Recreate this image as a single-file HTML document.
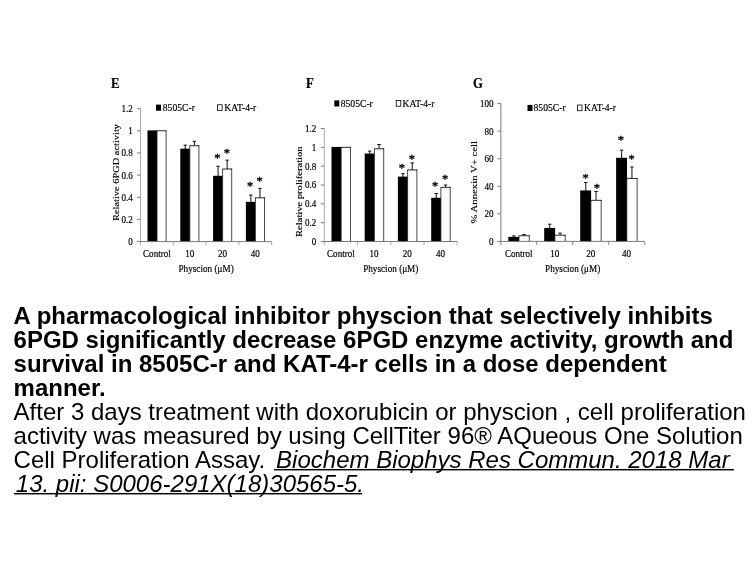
<!DOCTYPE html>
<html><head><meta charset="utf-8"><title>Physcion 6PGD inhibitor</title>
<style>
html,body{margin:0;padding:0;background:#fff;}
body{width:756px;height:567px;position:relative;overflow:hidden;font-family:"Liberation Sans",Arial,Helvetica,sans-serif;color:#000;}
svg{position:absolute;left:0;top:0;filter:blur(0.35px);}
svg text{font-family:"Liberation Serif","Times New Roman",serif;fill:#000;stroke:#000;stroke-width:0.2px;}
.cap{position:absolute;left:13.6px;top:304px;width:742px;font-size:24px;line-height:24px;white-space:nowrap;filter:blur(0.3px);}
.cap .l{display:block;height:24px;transform:scaleY(0.968);transform-origin:0 20px;}
.cap b{font-weight:bold;}
.cap i{font-style:italic;background:linear-gradient(#000,#000) no-repeat 0 22.5px/100% 1.5px;}
.cap i span{position:relative;left:2.2px;}
</style></head><body>
<svg width="756" height="300" viewBox="0 0 756 300">
<text transform="translate(111.00 88.00) scale(0.87 1)" font-size="14.6" text-anchor="start" font-weight="bold">E</text>
<path d="M140.5 108.6V245.1M173.30 241.6V245.1M206.10 241.6V245.1M238.90 241.6V245.1M271.70 241.6V245.1" fill="none" stroke="#a2a2a2" stroke-width="0.9"/>
<text transform="translate(132.90 245.05) scale(0.865 1)" font-size="10.5" text-anchor="end">0</text>
<text transform="translate(132.90 222.88) scale(0.865 1)" font-size="10.5" text-anchor="end">0.2</text>
<text transform="translate(132.90 200.72) scale(0.865 1)" font-size="10.5" text-anchor="end">0.4</text>
<text transform="translate(132.90 178.55) scale(0.865 1)" font-size="10.5" text-anchor="end">0.6</text>
<text transform="translate(132.90 156.38) scale(0.865 1)" font-size="10.5" text-anchor="end">0.8</text>
<text transform="translate(132.90 134.22) scale(0.865 1)" font-size="10.5" text-anchor="end">1</text>
<text transform="translate(132.90 112.05) scale(0.865 1)" font-size="10.5" text-anchor="end">1.2</text>
<rect x="147.50" y="130.37" width="9.70" height="111.23" fill="#000"/>
<rect x="157.00" y="130.77" width="9.10" height="110.83" fill="#fff"/>
<path d="M157.00 130.77V241.6M166.10 130.37V241.6" fill="none" stroke="#1a1a1a" stroke-width="0.8"/>
<path d="M156.70 130.77H166.47" fill="none" stroke="#000" stroke-width="0.85"/>
<text transform="translate(156.90 257.40) scale(0.865 1)" font-size="10.5" text-anchor="middle">Control</text>
<path d="M185.25 149.05V145.17M183.55 145.17H186.95" fill="none" stroke="#111" stroke-width="1"/>
<path d="M194.35 145.73V141.30M192.65 141.30H196.05" fill="none" stroke="#111" stroke-width="1"/>
<rect x="180.30" y="148.65" width="9.70" height="92.95" fill="#000"/>
<rect x="189.80" y="145.73" width="9.10" height="95.87" fill="#fff"/>
<path d="M189.80 145.73V241.6M198.90 145.33V241.6" fill="none" stroke="#1a1a1a" stroke-width="0.8"/>
<path d="M189.50 145.73H199.27" fill="none" stroke="#000" stroke-width="0.85"/>
<text transform="translate(189.70 257.40) scale(0.865 1)" font-size="10.5" text-anchor="middle">10</text>
<path d="M218.05 176.21V166.23M216.35 166.23H219.75" fill="none" stroke="#111" stroke-width="1"/>
<path d="M227.15 169.00V160.14M225.45 160.14H228.85" fill="none" stroke="#111" stroke-width="1"/>
<rect x="213.10" y="175.81" width="9.70" height="65.79" fill="#000"/>
<rect x="222.60" y="169.00" width="9.10" height="72.60" fill="#fff"/>
<path d="M222.60 169.00V241.6M231.70 168.60V241.6" fill="none" stroke="#1a1a1a" stroke-width="0.8"/>
<path d="M222.30 169.00H232.07" fill="none" stroke="#000" stroke-width="0.85"/>
<text transform="translate(222.50 257.40) scale(0.865 1)" font-size="10.5" text-anchor="middle">20</text>
<path d="M250.85 202.25V195.05M249.15 195.05H252.55" fill="none" stroke="#111" stroke-width="1"/>
<path d="M259.95 197.82V188.40M258.25 188.40H261.65" fill="none" stroke="#111" stroke-width="1"/>
<rect x="245.90" y="201.85" width="9.70" height="39.75" fill="#000"/>
<rect x="255.40" y="197.82" width="9.10" height="43.78" fill="#fff"/>
<path d="M255.40 197.82V241.6M264.50 197.42V241.6" fill="none" stroke="#1a1a1a" stroke-width="0.8"/>
<path d="M255.10 197.82H264.87" fill="none" stroke="#000" stroke-width="0.85"/>
<text transform="translate(255.30 257.40) scale(0.865 1)" font-size="10.5" text-anchor="middle">40</text>
<path d="M137.0 241.6H271.7M137.0 219.43H140.5M137.0 197.27H140.5M137.0 175.10H140.5M137.0 152.93H140.5M137.0 130.77H140.5M137.0 108.60H140.5" fill="none" stroke="#6e6e6e" stroke-width="0.9"/>
<text transform="translate(206.10 272.30) scale(0.876 1)" font-size="10.5" text-anchor="middle">Physcion (μM)</text>
<text transform="translate(119.3 172.5) rotate(-90)" font-size="9.2" text-anchor="middle" textLength="97" lengthAdjust="spacingAndGlyphs" style="stroke-width:0.15px">Relative 6PGD activity</text>
<rect x="156" y="104.60" width="5" height="6.1" fill="#000"/>
<text transform="translate(162.80 111.00) scale(0.91 1)" font-size="10.6" text-anchor="start">8505C-r</text>
<rect x="217.50" y="104.75" width="4.6" height="5.65" fill="#fff" stroke="#000" stroke-width="0.8"/>
<text transform="translate(224.30 111.00) scale(0.9 1)" font-size="10.6" text-anchor="start">KAT-4-r</text>
<text x="217.3" y="162.10" font-size="12.5" text-anchor="middle" style="stroke-width:0.38px">*</text>
<text x="226.9" y="157.10" font-size="12.5" text-anchor="middle" style="stroke-width:0.38px">*</text>
<text x="250" y="190.40" font-size="12.5" text-anchor="middle" style="stroke-width:0.38px">*</text>
<text x="259.5" y="184.90" font-size="12.5" text-anchor="middle" style="stroke-width:0.38px">*</text>
<text transform="translate(306.00 88.00) scale(0.87 1)" font-size="14.6" text-anchor="start" font-weight="bold">F</text>
<path d="M324.3 128.5V245.0M357.50 241.5V245.0M390.70 241.5V245.0M424.00 241.5V245.0M457.20 241.5V245.0" fill="none" stroke="#a2a2a2" stroke-width="0.9"/>
<text transform="translate(316.30 244.95) scale(0.865 1)" font-size="10.5" text-anchor="end">0</text>
<text transform="translate(316.30 226.12) scale(0.865 1)" font-size="10.5" text-anchor="end">0.2</text>
<text transform="translate(316.30 207.28) scale(0.865 1)" font-size="10.5" text-anchor="end">0.4</text>
<text transform="translate(316.30 188.45) scale(0.865 1)" font-size="10.5" text-anchor="end">0.6</text>
<text transform="translate(316.30 169.62) scale(0.865 1)" font-size="10.5" text-anchor="end">0.8</text>
<text transform="translate(316.30 150.78) scale(0.865 1)" font-size="10.5" text-anchor="end">1</text>
<text transform="translate(316.30 131.95) scale(0.865 1)" font-size="10.5" text-anchor="end">1.2</text>
<rect x="331.50" y="146.93" width="9.90" height="94.57" fill="#000"/>
<rect x="341.20" y="147.33" width="9.30" height="94.17" fill="#fff"/>
<path d="M341.20 147.33V241.5M350.50 146.93V241.5" fill="none" stroke="#1a1a1a" stroke-width="0.8"/>
<path d="M340.90 147.33H350.87" fill="none" stroke="#000" stroke-width="0.85"/>
<text transform="translate(340.90 257.40) scale(0.865 1)" font-size="10.5" text-anchor="middle">Control</text>
<path d="M369.75 153.93V151.10M368.05 151.10H371.45" fill="none" stroke="#111" stroke-width="1"/>
<path d="M379.05 148.75V144.51M377.35 144.51H380.75" fill="none" stroke="#111" stroke-width="1"/>
<rect x="364.70" y="153.53" width="9.90" height="87.97" fill="#000"/>
<rect x="374.40" y="148.75" width="9.30" height="92.75" fill="#fff"/>
<path d="M374.40 148.75V241.5M383.70 148.35V241.5" fill="none" stroke="#1a1a1a" stroke-width="0.8"/>
<path d="M374.10 148.75H384.07" fill="none" stroke="#000" stroke-width="0.85"/>
<text transform="translate(374.10 257.40) scale(0.865 1)" font-size="10.5" text-anchor="middle">10</text>
<path d="M402.95 177.00V173.70M401.25 173.70H404.65" fill="none" stroke="#111" stroke-width="1"/>
<path d="M412.25 169.93V162.87M410.55 162.87H413.95" fill="none" stroke="#111" stroke-width="1"/>
<rect x="397.90" y="176.60" width="9.90" height="64.90" fill="#000"/>
<rect x="407.60" y="169.93" width="9.30" height="71.57" fill="#fff"/>
<path d="M407.60 169.93V241.5M416.90 169.53V241.5" fill="none" stroke="#1a1a1a" stroke-width="0.8"/>
<path d="M407.30 169.93H417.27" fill="none" stroke="#000" stroke-width="0.85"/>
<text transform="translate(407.35 257.40) scale(0.865 1)" font-size="10.5" text-anchor="middle">20</text>
<path d="M436.25 198.18V193.47M434.55 193.47H437.95" fill="none" stroke="#111" stroke-width="1"/>
<path d="M445.55 187.35V185.00M443.85 185.00H447.25" fill="none" stroke="#111" stroke-width="1"/>
<rect x="431.20" y="197.78" width="9.90" height="43.72" fill="#000"/>
<rect x="440.90" y="187.35" width="9.30" height="54.15" fill="#fff"/>
<path d="M440.90 187.35V241.5M450.20 186.95V241.5" fill="none" stroke="#1a1a1a" stroke-width="0.8"/>
<path d="M440.60 187.35H450.57" fill="none" stroke="#000" stroke-width="0.85"/>
<text transform="translate(440.60 257.40) scale(0.865 1)" font-size="10.5" text-anchor="middle">40</text>
<path d="M320.8 241.5H457.2M320.8 222.67H324.3M320.8 203.83H324.3M320.8 185.00H324.3M320.8 166.17H324.3M320.8 147.33H324.3M320.8 128.50H324.3" fill="none" stroke="#6e6e6e" stroke-width="0.9"/>
<text transform="translate(390.75 272.30) scale(0.876 1)" font-size="10.5" text-anchor="middle">Physcion (μM)</text>
<text transform="translate(301.5 191.7) rotate(-90)" font-size="9.2" text-anchor="middle" textLength="90.5" lengthAdjust="spacingAndGlyphs" style="stroke-width:0.15px">Relative proliferation</text>
<rect x="334.3" y="100.40" width="5" height="6.1" fill="#000"/>
<text transform="translate(340.70 106.80) scale(0.91 1)" font-size="10.6" text-anchor="start">8505C-r</text>
<rect x="396.20" y="100.55" width="4.6" height="5.65" fill="#fff" stroke="#000" stroke-width="0.8"/>
<text transform="translate(402.50 106.80) scale(0.9 1)" font-size="10.6" text-anchor="start">KAT-4-r</text>
<text x="401.8" y="172.10" font-size="12.5" text-anchor="middle" style="stroke-width:0.38px">*</text>
<text x="411.9" y="163.40" font-size="12.5" text-anchor="middle" style="stroke-width:0.38px">*</text>
<text x="435" y="190.00" font-size="12.5" text-anchor="middle" style="stroke-width:0.38px">*</text>
<text x="445" y="182.90" font-size="12.5" text-anchor="middle" style="stroke-width:0.38px">*</text>
<text transform="translate(473.00 88.00) scale(0.87 1)" font-size="14.6" text-anchor="start" font-weight="bold">G</text>
<path d="M500.8 103.6V244.9M536.70 241.4V244.9M572.70 241.4V244.9M608.60 241.4V244.9M644.50 241.4V244.9" fill="none" stroke="#a2a2a2" stroke-width="1.4"/>
<text transform="translate(493.60 244.85) scale(0.865 1)" font-size="10.5" text-anchor="end">0</text>
<text transform="translate(493.60 217.29) scale(0.865 1)" font-size="10.5" text-anchor="end">20</text>
<text transform="translate(493.60 189.73) scale(0.865 1)" font-size="10.5" text-anchor="end">40</text>
<text transform="translate(493.60 162.17) scale(0.865 1)" font-size="10.5" text-anchor="end">60</text>
<text transform="translate(493.60 134.61) scale(0.865 1)" font-size="10.5" text-anchor="end">80</text>
<text transform="translate(493.60 107.05) scale(0.865 1)" font-size="10.5" text-anchor="end">100</text>
<path d="M513.85 237.27V235.89M512.15 235.89H515.55" fill="none" stroke="#111" stroke-width="1"/>
<path d="M524.15 235.75V234.51M522.45 234.51H525.85" fill="none" stroke="#111" stroke-width="1"/>
<rect x="508.30" y="236.87" width="10.90" height="4.53" fill="#000"/>
<rect x="519.00" y="235.75" width="10.30" height="5.65" fill="#fff"/>
<path d="M519.00 235.75V241.4M529.30 235.35V241.4" fill="none" stroke="#1a1a1a" stroke-width="0.8"/>
<path d="M518.70 235.75H529.67" fill="none" stroke="#000" stroke-width="0.85"/>
<text transform="translate(518.75 257.40) scale(0.865 1)" font-size="10.5" text-anchor="middle">Control</text>
<path d="M549.75 228.31V224.18M548.05 224.18H551.45" fill="none" stroke="#111" stroke-width="1"/>
<path d="M560.05 235.20V233.13M558.35 233.13H561.75" fill="none" stroke="#111" stroke-width="1"/>
<rect x="544.20" y="227.91" width="10.90" height="13.49" fill="#000"/>
<rect x="554.90" y="235.20" width="10.30" height="6.20" fill="#fff"/>
<path d="M554.90 235.20V241.4M565.20 234.80V241.4" fill="none" stroke="#1a1a1a" stroke-width="0.8"/>
<path d="M554.60 235.20H565.57" fill="none" stroke="#000" stroke-width="0.85"/>
<text transform="translate(554.70 257.40) scale(0.865 1)" font-size="10.5" text-anchor="middle">10</text>
<path d="M585.75 190.83V182.56M584.05 182.56H587.45" fill="none" stroke="#111" stroke-width="1"/>
<path d="M596.05 200.34V191.52M594.35 191.52H597.75" fill="none" stroke="#111" stroke-width="1"/>
<rect x="580.20" y="190.43" width="10.90" height="50.97" fill="#000"/>
<rect x="590.90" y="200.34" width="10.30" height="41.06" fill="#fff"/>
<path d="M590.90 200.34V241.4M601.20 199.94V241.4" fill="none" stroke="#1a1a1a" stroke-width="0.8"/>
<path d="M590.60 200.34H601.57" fill="none" stroke="#000" stroke-width="0.85"/>
<text transform="translate(590.65 257.40) scale(0.865 1)" font-size="10.5" text-anchor="middle">20</text>
<path d="M621.65 158.17V150.18M619.95 150.18H623.35" fill="none" stroke="#111" stroke-width="1"/>
<path d="M631.95 178.43V166.99M630.25 166.99H633.65" fill="none" stroke="#111" stroke-width="1"/>
<rect x="616.10" y="157.77" width="10.90" height="83.63" fill="#000"/>
<rect x="626.80" y="178.43" width="10.30" height="62.97" fill="#fff"/>
<path d="M626.80 178.43V241.4M637.10 178.03V241.4" fill="none" stroke="#1a1a1a" stroke-width="0.8"/>
<path d="M626.50 178.43H637.47" fill="none" stroke="#000" stroke-width="0.85"/>
<text transform="translate(626.55 257.40) scale(0.865 1)" font-size="10.5" text-anchor="middle">40</text>
<path d="M497.3 241.4H644.5M497.3 213.84H500.8M497.3 186.28H500.8M497.3 158.72H500.8M497.3 131.16H500.8M497.3 103.60H500.8" fill="none" stroke="#6e6e6e" stroke-width="0.9"/>
<text transform="translate(572.65 272.30) scale(0.876 1)" font-size="10.5" text-anchor="middle">Physcion (μM)</text>
<text transform="translate(476.5 182.2) rotate(-90)" font-size="9.2" text-anchor="middle" textLength="82.5" lengthAdjust="spacingAndGlyphs" style="stroke-width:0.15px">% Annexin V+ cell</text>
<rect x="527.5" y="104.90" width="5" height="6.1" fill="#000"/>
<text transform="translate(533.50 111.30) scale(0.91 1)" font-size="10.6" text-anchor="start">8505C-r</text>
<rect x="577.40" y="105.05" width="4.6" height="5.65" fill="#fff" stroke="#000" stroke-width="0.8"/>
<text transform="translate(584.00 111.30) scale(0.9 1)" font-size="10.6" text-anchor="start">KAT-4-r</text>
<text x="585.6" y="181.70" font-size="12.5" text-anchor="middle" style="stroke-width:0.38px">*</text>
<text x="596.9" y="191.70" font-size="12.5" text-anchor="middle" style="stroke-width:0.38px">*</text>
<text x="620.8" y="144.40" font-size="12.5" text-anchor="middle" style="stroke-width:0.38px">*</text>
<text x="631.6" y="163.40" font-size="12.5" text-anchor="middle" style="stroke-width:0.38px">*</text>
</svg>
<div class="cap"><span class="l"><b>A pharmacological inhibitor physcion that selectively inhibits</b></span><span class="l"><b>6PGD significantly decrease 6PGD enzyme activity, growth and</b></span><span class="l"><b>survival in 8505C-r and KAT-4-r cells in a dose dependent</b></span><span class="l"><b>manner.</b></span><span class="l">After 3 days treatment with doxorubicin or physcion , cell proliferation</span><span class="l">activity was measured by using CellTiter 96® AQueous One Solution</span><span class="l">Cell Proliferation Assay. <i style="margin-left:2px"><span>Biochem Biophys Res Commun. 2018 Mar&nbsp;</span></i></span><span class="l"><i><span>13. pii: S0006-291X(18)30565-5.</span></i></span></div>
</body></html>
